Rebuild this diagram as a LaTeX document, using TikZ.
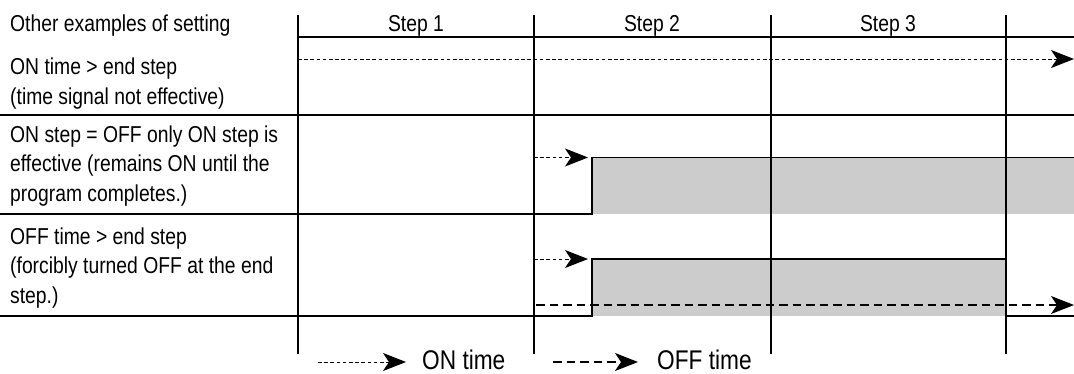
\documentclass[tikz,border=0pt]{standalone}
\usepackage{fontspec}
\setmainfont{Liberation Sans}[FakeStretch=0.84]
\usetikzlibrary{arrows.meta}
\definecolor{fillgray}{HTML}{CCCCCC}
\tikzset{
  grid/.style={line width=1.3pt, black},
  sig/.style={line width=1.3pt, black},
  lbl/.style={anchor=base west, inner sep=0pt, align=left, font=\fontsize{23}{29.5}\selectfont},
  hdr/.style={anchor=base, inner sep=0pt, font=\fontsize{23}{29.5}\selectfont},
  leg/.style={anchor=base west, inner sep=0pt, font=\fontsize{27}{30}\selectfont},
  ontime/.style={line width=1pt, dash pattern=on 3.5pt off 2.7pt, -{Stealth[length=23pt,width=18pt,inset=6pt]}},
  offtime/.style={line width=1.3pt, dash pattern=on 8.5pt off 5pt, -{Stealth[length=23pt,width=18pt,inset=6pt]}},
}
\begin{document}
\begin{tikzpicture}[x=1pt,y=-1pt]
\useasboundingbox (0,0) rectangle (1074,373);
% gray fills
\fill[fillgray] (592,157.5) rectangle (1074,214);
\fill[fillgray] (592,259) rectangle (1006,316);
% grid
\coordinate (v1t) at (298,15); \coordinate (v1b) at (298,354);
\coordinate (v2t) at (534,15); \coordinate (v2b) at (534,354);
\coordinate (v3t) at (771,15); \coordinate (v3b) at (771,354);
\coordinate (v4t) at (1006,15); \coordinate (v4b) at (1006,354);
\draw[grid] (v1t) -- (v1b);
\draw[grid] (v2t) -- (v2b);
\draw[grid] (v3t) -- (v3b);
\draw[grid] (v4t) -- (v4b);
\coordinate (h0a) at (298,37); \coordinate (h0b) at (1074,37);
\coordinate (h1a) at (0,115); \coordinate (h1b) at (1074,115);
\draw[grid] (h0a) -- (h0b);
\draw[grid] (h1a) -- (h1b);
% signals
\draw[sig] (0,214) -- (592,214) -- (592,157.5) -- (1074,157.5);
\draw[sig] (0,316) -- (592,316) -- (592,259) -- (1006,259) -- (1006,316) -- (1074,316);
% arrows
\coordinate (a1s) at (298,59); \coordinate (a1e) at (1074,59);
\draw[ontime] (a1s) -- (a1e);
\coordinate (a2s) at (534,157.5); \coordinate (a2e) at (588,157.5);
\draw[ontime] (a2s) -- (a2e);
\coordinate (a3s) at (534,259); \coordinate (a3e) at (588,259);
\draw[ontime] (a3s) -- (a3e);
\coordinate (a4s) at (536,305); \coordinate (a4e) at (1074,305);
\draw[offtime] (a4s) -- (a4e);
% header
\node[lbl] (title) at (10,31) {Other examples of setting};
\node[hdr] (s1) at (416,31) {Step 1};
\node[hdr] (s2) at (652,31) {Step 2};
\node[hdr] (s3) at (888,31) {Step 3};
% row labels (base = last line)
\node[lbl] (r1) at (10,104) {ON time > end step\\(time signal not effective)};
\node[lbl] (r2) at (10,201) {ON step = OFF only ON step is\\effective (remains ON until the\\program completes.)};
\node[lbl] (r3) at (10,303) {OFF time > end step\\(forcibly turned OFF at the end\\step.)};
% legend
\coordinate (l1s) at (318,362); \coordinate (l1e) at (406,362);
\draw[ontime] (l1s) -- (l1e);
\node[leg] (lon) at (422,369) {ON time};
\coordinate (l2s) at (553,362); \coordinate (l2e) at (638,362);
\draw[offtime] (l2s) -- (l2e);
\node[leg] (loff) at (657,369) {OFF time};
\end{tikzpicture}
\end{document}
